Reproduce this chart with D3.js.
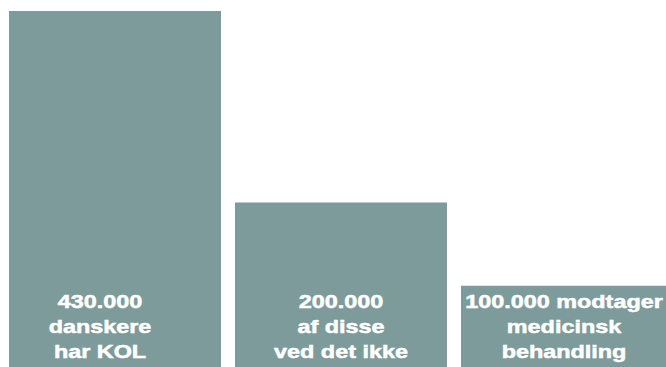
<!DOCTYPE html>
<html>
<head>
<meta charset="utf-8">
<script src="https://cdn.jsdelivr.net/npm/d3@7"></script>
<style>
  html, body { margin: 0; padding: 0; background: #fff; }
  .label { fill: #fff; stroke: #fff; stroke-width: 0.5px; font-family: "Liberation Sans", Arial, sans-serif; font-weight: bold; font-size: 18px; }
</style>
</head>
<body>
<div id="chart"></div>
<script>
// data
const categories = ["kol", "vedIkke", "behandling"];
const values = [430000, 200000, 100000];
const labels = [
    ["430.000", "danskere", "har KOL"],
    ["200.000", "af disse", "ved det ikke"],
    ["100.000 modtager", "medicinsk", "behandling"]
];

const width = 666;
const height = 367;

let svg = d3.select("#chart").append("svg")
    .attr("width", width)
    .attr("height", height);

let x = d3.scaleBand()
    .domain(categories)
    .range([9, 673])
    .paddingInner(0.062)
    .paddingOuter(0);

let y = d3.scaleLinear()
    .domain([0, 430000])
    .range([369, 11]);

//Bars run off the bottom edge of the picture.
svg.selectAll("rect")
    .data(values)
    .enter()
    .append("rect")
    .attr("x", (d, i) => x(categories[i]))
    .attr("y", d => y(d))
    .attr("width", x.bandwidth())
    .attr("height", d => y(0) - y(d))
    .attr("fill", "#7e9b9b");

//Labels sit at the foot of each bar, text is a bit wide.
const labelShift = [-15, 0, -3];
let g = svg.selectAll("g.label")
    .data(labels)
    .enter()
    .append("g")
    .attr("class", "label")
    .attr("transform", (d, i) =>
        "translate(" + (x(categories[i]) + x.bandwidth() / 2 + labelShift[i]) + "," + (height - 59) + ") scale(1.3,1)");

g.selectAll("text")
    .data(d => d)
    .enter()
    .append("text")
    .attr("text-anchor", "middle")
    .attr("y", (d, i) => i * 25)
    .text(d => d);
</script>
</body>
</html>
